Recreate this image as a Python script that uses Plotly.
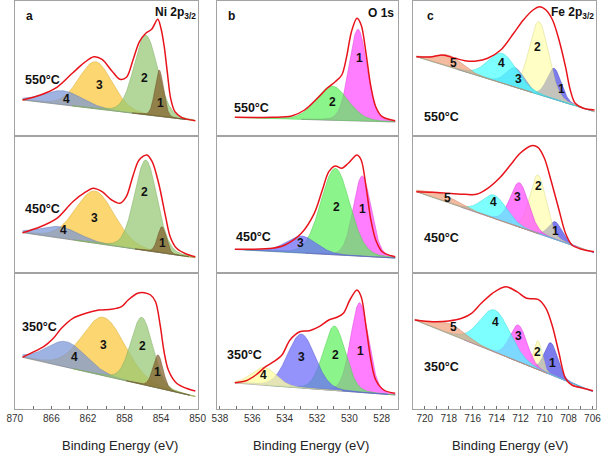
import numpy as np
import plotly.graph_objects as go

W, H = 614, 457

# ===================== DATA =====================
# Binding energy (eV) / intensity (a.u.) of the fitted envelope (red line)
ni550_env_be = [869.15, 867.2, 865.4, 863.65, 862.4, 861.35, 860.45, 859.4, 858.5, 857.78, 857.07, 856.36, 855.67,
                855.03, 854.36, 854.01, 853.65, 853.3, 852.95, 852.48, 851.77, 850.25]
ni550_env_int = [36, 41, 48.7, 63.3, 73.3, 79.3, 76.7, 65.3, 56.7, 58.7, 76, 94.3, 102.7,
                 106.7, 116.7, 107.7, 89.3, 62.7, 37.7, 24.3, 18.7, 15.3]
ni450_env_be = [869.15, 867.2, 865.4, 863.65, 862.2, 861.45, 860.45, 859.4, 858.5, 857.8, 857.1, 856.4, 855.55,
                854.97, 854.26, 853.5, 853.0, 852.3, 851.25, 850.25]
ni450_env_int = [40.3, 46.3, 54.7, 71.3, 81.3, 84.7, 81.3, 73, 69.7, 76.3, 96.3, 113, 118,
                 111.3, 89.7, 56.3, 36.3, 24.7, 19, 16.3]
ni350_env_be = [869.15, 867.9, 866.84, 865.78, 864.9, 863.65, 862.23, 860.8, 859.4, 858.33, 857.6, 856.56, 855.85,
                855.14, 854.6, 854.07, 853.7, 853.2, 852.3, 851.25, 850.25]
ni350_env_int = [51.7, 57.3, 62.3, 70.7, 80.7, 90.7, 95.7, 99, 99.7, 102.3, 109, 115.7, 116.3,
                 114, 107.3, 82.3, 59, 39, 25.7, 20.7, 18]

o550_env_be = [537.08, 534.77, 533.57, 532.77, 531.98, 531.38, 530.87, 530.47, 530.17, 529.87, 529.53, 529.27,
               528.97, 528.67, 528.37, 527.97, 527.17]
o550_env_int = [18.7, 18.7, 20, 26, 37.7, 47.7, 54.3, 61, 79.3, 104.3, 117.7, 111, 82.7, 49.3, 29.3, 19.3, 15.3]
o450_env_be = [537.08, 534.77, 533.98, 532.97, 532.17, 531.67, 531.27, 530.87, 530.47, 530.07, 529.53, 529.27,
               528.97, 528.67, 528.37, 527.97, 527.17]
o450_env_int = [23.7, 24.7, 28, 39.7, 59.7, 83, 101.3, 107, 104.7, 109.7, 118, 113, 86.3, 53, 33, 21.3, 16.3]
o350_env_be = [537.08, 536.38, 535.78, 535.18, 534.68, 534.17, 533.67, 533.07, 532.47, 531.87, 531.27, 530.77,
               530.37, 529.97, 529.53, 529.27, 528.97, 528.67, 528.37, 527.87, 527.17]
o350_env_int = [26.3, 28.3, 34, 42.3, 47.3, 54, 69, 77.3, 78.3, 82.3, 89, 91.7, 95.7, 109, 119, 112.3, 82.3,
                49, 29, 19, 15.7]

fe550_env_be = [720.71, 719.35, 718.54, 717.46, 716.64, 715.7, 714.75, 713.66, 712.58, 711.77, 710.96, 710.41,
                709.88, 709.33, 708.79, 708.25, 707.85, 707.44, 706.76, 705.82]
fe550_env_int = [79.3, 79.3, 81, 77.7, 75.3, 75, 77.7, 86, 102.7, 116, 126, 129.3, 126, 116, 96, 69.3, 46, 32.7,
                 27.7, 26]
fe450_env_be = [720.71, 719.35, 718.0, 716.64, 715.7, 714.75, 713.66, 712.85, 712.04, 711.1, 710.55, 710.01,
                709.47, 708.79, 708.25, 707.71, 706.9, 705.87]
fe450_env_int = [81.3, 80.7, 79.7, 78.7, 78.7, 84.7, 96.3, 108, 119.7, 127.3, 125.7, 114.7, 93, 63, 39.7, 28,
                 23.7, 21.3]
fe350_env_be = [720.84, 719.35, 718.0, 716.91, 716.1, 715.29, 714.35, 713.26, 712.31, 711.5, 710.55, 709.88,
                709.33, 708.79, 708.25, 707.71, 706.76, 705.95]
fe350_env_int = [89, 87.3, 88, 90.7, 95.7, 105.7, 115.7, 122.3, 117.3, 110.7, 109.7, 100.7, 82.3, 55.7, 30.7,
                 24, 20.7, 18.3]

# Background intensity at the high-BE end and low-BE end of each spectrum
ni550_bg = [36, 15.4]
ni450_bg = [40.3, 15.3]
ni350_bg = [51.7, 12.5]
o550_bg = [18.5, 14]
o450_bg = [23.5, 15]
o350_bg = [26, 14]
fe550_bg = [79.3, 24.3]
fe450_bg = [81.3, 20.3]
fe350_bg = [89, 17.3]

# Fitted components: centre (eV), height above background (a.u.), FWHM (eV); peaks numbered 1..n
ni550_center = [854.2, 855.67, 861.17, 864.7]
ni550_height = [46.3, 79.7, 47, 14.1]
ni550_fwhm = [1.1, 3.0, 4.3, 5.0]
ni450_center = [853.9, 855.67, 861.24, 865.07]
ni450_height = [26.2, 90.5, 52.2, 11.4]
ni450_fwhm = [1.1, 2.9, 5.0, 5.0]
ni350_center = [854.33, 856.1, 860.29, 864.36]
ni350_height = [33.1, 67.1, 58.4, 25.6]
ni350_fwhm = [1.3, 2.8, 5.5, 5.0]

o550_center = [529.47, 531.07]
o550_height = [91.7, 34.2]
o550_fwhm = [1.3, 2.3]
o450_center = [529.21, 530.87, 532.97]
o450_height = [80.3, 86.5, 17.1]
o450_fwhm = [1.3, 2.1, 2.2]
o350_center = [529.37, 530.93, 532.97, 535.28]
o350_height = [89.6, 64.5, 54, 17.9]
o350_fwhm = [1.3, 1.6, 2.0, 1.8]

fe550_center = [709.2, 710.47, 712.45, 713.53, 718.0]
fe550_height = [30.9, 72.8, 19.5, 29.9, 11.5]
fe550_fwhm = [1.4, 1.9, 1.8, 2.8, 2.6]
fe450_center = [709.11, 710.55, 712.1, 714.21, 718.54]
fe450_height = [17.7, 58.5, 44.4, 23.4, 6.5]
fe450_fwhm = [1.3, 1.6, 1.8, 2.4, 3.0]
fe350_center = [709.47, 710.55, 712.18, 714.15, 717.86]
fe350_height = [32.0, 28.8, 36.7, 42.2, 10.3]
fe350_fwhm = [1.3, 0.8, 1.7, 3.0, 3.0]

temperatures = ["550°C", "450°C", "350°C"]
panel_letters = ["a", "b", "c"]
panel_titles = ["Ni 2p<sub>3/2</sub>", "O 1s", "Fe 2p<sub>3/2</sub>"]
x_title = "Binding Energy (eV)"

# ===================== STYLE / LAYOUT =====================
FONT = "Liberation Sans, Arial, sans-serif"
col_px = [(7, 195), (215, 401), (417, 605)]
row_px = [(1, 136), (136, 273), (273, 409)]
x_ranges = [[870, 850], [538.18, 527.0], [720.95, 705.68]]
x_major = [dict(tick0=850, dtick=4, minor=2), dict(tick0=528, dtick=2, minor=1), dict(tick0=706, dtick=2, minor=1)]

col_fill = {
    0: [(130, 95, 45, 0.72), (150, 200, 115, 0.72), (250, 200, 65, 0.75), (120, 150, 215, 0.72)],
    1: [(255, 70, 255, 0.7), (90, 240, 90, 0.7), (105, 105, 250, 0.72), (255, 255, 160, 0.75)],
    2: [(80, 80, 230, 0.75), (255, 255, 150, 0.55), (255, 70, 255, 0.7), (70, 255, 255, 0.7), (240, 150, 110, 0.65)],
}
draw_order = {0: [2, 3, 1, 0], 1: [0, 1, 2, 3], 2: [0, 1, 2, 3, 4]}

# peak-number label positions (eV, a.u.)
lbl = {
    (0, 0): [(854.07, 32.7), (855.85, 57.7), (860.74, 51), (864.36, 36.7)],
    (1, 0): [(853.8, 29.7), (855.78, 81.3), (861.24, 54.7), (864.71, 43)],
    (2, 0): [(854.36, 37.3), (856.03, 63), (860.29, 64), (863.48, 52.3)],
    (0, 1): [(529.37, 77.7), (531.07, 34.3)],
    (1, 1): [(529.21, 64), (530.81, 66.3), (533.02, 29.7)],
    (2, 1): [(529.31, 58.3), (530.83, 54), (532.97, 52.3), (535.28, 34)],
    (0, 2): [(708.58, 46.7), (710.55, 88.7), (712.18, 57), (713.58, 72.7), (717.64, 72.7)],
    (1, 2): [(709.11, 42), (710.47, 87), (712.23, 76.3), (714.26, 71.3), (718.13, 75.3)],
    (2, 2): [(709.33, 46.3), (710.55, 57.3), (712.18, 73), (714.13, 87.3), (717.64, 81.7)],
}
temp_px = {0: [(35.5, 80), (35.5, 209), (32.5, 327)],
           1: [(250, 108), (252.5, 237), (243.5, 355)],
           2: [(445.5, 117), (445.5, 238), (445.5, 367)]}

panels = {
    (0, 0): (ni550_env_be, ni550_env_int, ni550_bg, ni550_center, ni550_height, ni550_fwhm),
    (1, 0): (ni450_env_be, ni450_env_int, ni450_bg, ni450_center, ni450_height, ni450_fwhm),
    (2, 0): (ni350_env_be, ni350_env_int, ni350_bg, ni350_center, ni350_height, ni350_fwhm),
    (0, 1): (o550_env_be, o550_env_int, o550_bg, o550_center, o550_height, o550_fwhm),
    (1, 1): (o450_env_be, o450_env_int, o450_bg, o450_center, o450_height, o450_fwhm),
    (2, 1): (o350_env_be, o350_env_int, o350_bg, o350_center, o350_height, o350_fwhm),
    (0, 2): (fe550_env_be, fe550_env_int, fe550_bg, fe550_center, fe550_height, fe550_fwhm),
    (1, 2): (fe450_env_be, fe450_env_int, fe450_bg, fe450_center, fe450_height, fe450_fwhm),
    (2, 2): (fe350_env_be, fe350_env_int, fe350_bg, fe350_center, fe350_height, fe350_fwhm),
}


def peak(e, c, h, w, eta=0.12):
    d = (e - c) / w
    return h * ((1 - eta) * np.exp(-4 * np.log(2) * d * d) + eta / (1 + 4 * d * d))


def txt(x, y, text, size, xref="paper", yref="paper", xanchor="center", color="#111"):
    if xref == "paper":
        x, y = x / W, 1 - y / H
    return dict(x=x, y=y, xref=xref, yref=yref, text=text, showarrow=False, xanchor=xanchor,
                yanchor="middle", font=dict(size=size, color=color, family=FONT))


fig = go.Figure()
layout = dict(width=W, height=H, margin=dict(l=0, r=0, t=0, b=0), paper_bgcolor="white",
              plot_bgcolor="white", showlegend=False, font=dict(family=FONT, color="#222"))
annotations = []

for (r, c), (env_be, env_int, bg, cen, hei, fw) in panels.items():
    k = r * 3 + c + 1
    xa, ya = f"x{k}", f"y{k}"
    grid = np.linspace(env_be[0], env_be[-1], 600)
    base = bg[0] + (grid - env_be[0]) * (bg[1] - bg[0]) / (env_be[-1] - env_be[0])
    fills = list(col_fill[c])
    if (r, c) == (0, 2):
        fills[2] = (110, 165, 235, 0.75)
    for i in [j for j in draw_order[c] if j < len(cen)]:
        f = peak(grid, cen[i], hei[i], fw[i])
        m = f > 0.004 * hei[i]
        g = grid[m]
        rr, gg, bb, a = fills[i]
        fig.add_trace(go.Scatter(
            x=np.concatenate([g, g[::-1]]), y=np.concatenate([base[m] + f[m], base[m][::-1]]),
            xaxis=xa, yaxis=ya, mode="lines", fill="toself",
            fillcolor=f"rgba({rr},{gg},{bb},{a})",
            line=dict(color=f"rgba({int(rr*0.85)},{int(gg*0.85)},{int(bb*0.85)},0.8)", width=0.6),
            hoverinfo="skip"))
    fig.add_trace(go.Scatter(x=env_be, y=env_int, xaxis=xa, yaxis=ya, mode="lines",
                             line=dict(color="#e8141c", width=1.5, shape="spline", smoothing=0.9)))

    x0, x1 = col_px[c]
    y0, y1 = row_px[r]
    bottom = r == 2
    xm = x_major[c]
    axn = "" if k == 1 else str(k)
    layout["xaxis" + axn] = dict(
        domain=[x0 / W, x1 / W], anchor=ya, range=x_ranges[c], showgrid=False, zeroline=False,
        showline=True, mirror=True, linecolor="#a3a3a3", linewidth=1,
        ticks="inside" if bottom else "", ticklen=3, tickcolor="#707070", tick0=xm["tick0"], dtick=xm["dtick"],
        showticklabels=bottom, tickfont=dict(size=10, color="#333", family=FONT),
        minor=dict(ticks="inside" if bottom else "", ticklen=3, tickcolor="#707070", dtick=xm["minor"],
                   tick0=xm["tick0"]),
        fixedrange=True)
    layout["yaxis" + axn] = dict(
        domain=[1 - y1 / H, 1 - y0 / H], anchor=xa, range=[0, y1 - y0], showgrid=False, zeroline=False,
        showline=True, mirror=True, linecolor="#a3a3a3", linewidth=1, showticklabels=False, ticks="",
        fixedrange=True)

    for j, (lx, ly) in enumerate(lbl[(r, c)]):
        annotations.append(txt(lx, ly, f"<b>{j + 1}</b>", 12, xref=xa, yref=ya))

for c in range(3):
    for r in range(3):
        px, py = temp_px[c][r]
        annotations.append(txt(px, py, f"<b>{temperatures[r]}</b>", 12.5))

letter_px = [(21.7, 16), (230, 16), (435, 16)]
title_px = [(195, 13), (399, 13), (605, 13)]
xtitle_px = [(115, 445), (312, 445), (516, 445)]
for c in range(3):
    lx, ly = letter_px[c]
    annotations.append(txt(lx, ly, f"<b>{panel_letters[c]}</b>", 12))
    tx, ty = title_px[c]
    annotations.append(txt(tx, ty, f"<b>{panel_titles[c]}</b>", 12, xanchor="right"))
    ax_, ay_ = xtitle_px[c]
    annotations.append(txt(ax_, ay_, x_title, 13, color="#222"))

layout["annotations"] = annotations
fig.update_layout(**layout)
fig.write_html("out.html", config={"displayModeBar": False},
               post_script="document.body.style.margin='0';document.body.style.overflow='hidden';")
